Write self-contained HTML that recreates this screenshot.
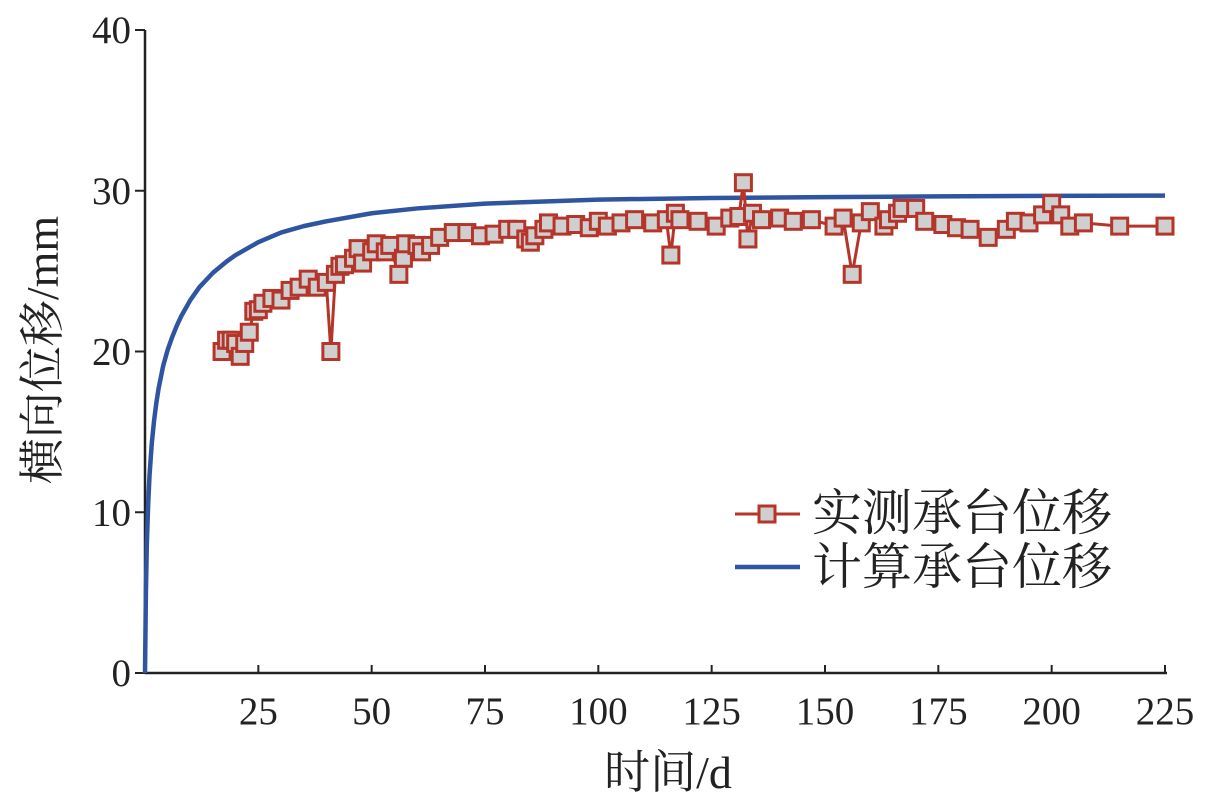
<!DOCTYPE html>
<html><head><meta charset="utf-8"><style>
html,body{margin:0;padding:0;background:#fff;}
svg text{font-family:"Liberation Serif","Noto Serif CJK SC",serif;fill:#222;}
</style></head><body>
<svg id="chart" width="1205" height="800" xmlns="http://www.w3.org/2000/svg"></svg>
<script>
const xTicks=[25,50,75,100,125,150,175,200,225];
const yTicks=[0,10,20,30,40];
const measDays=[17,18,19,20,21,22,23,24,25,26,28,30,32,34,36,38,40,41,42,43,44,46,47,48,50,51,53,54,56,57,57.5,60,61,63,65,68,71,74,77,80,82,84,85,86,88,89,92,95,98,100,102,105,108,112,115,116,117,118,122,126,129,131,132,133,134,136,140,143,147,152,154,156,158,160,163,164,166,167,170,172,176,179,182,186,190,192,195,198,200,202,204,207,215,225];
const measVals=[20,20.7,20.7,20.5,19.7,20.5,21.2,22.5,22.6,23,23.3,23.2,23.8,24,24.5,24,24.3,20,24.8,25.3,25.4,25.8,26.4,25.5,26.2,26.7,26.2,26.6,24.8,25.8,26.7,26.6,26.2,26.6,27.1,27.4,27.4,27.2,27.3,27.6,27.6,27.0,26.8,27.2,27.6,28,27.8,27.9,27.7,28.1,27.8,28.0,28.2,28.0,28.2,26,28.6,28.2,28.1,27.8,28.3,28.4,30.5,27.0,28.6,28.2,28.3,28.1,28.2,27.8,28.3,24.8,28.0,28.7,27.8,28.2,28.6,28.9,28.9,28.1,27.9,27.7,27.6,27.1,27.6,28.1,28.0,28.5,29.2,28.5,27.8,28.0,27.8,27.8];
const calcDays=[0,0.2,0.4,0.7,1,1.5,2,2.5,3,4,5,6,7,8,10,12,15,18,20,25,30,35,40,50,60,75,100,125,150,175,200,225];
const calcVals=[0,5,8,10.5,12.3,14.3,15.7,16.8,17.7,19.1,20.1,20.9,21.6,22.2,23.2,24,24.9,25.6,26,26.8,27.4,27.8,28.1,28.6,28.9,29.2,29.45,29.55,29.6,29.65,29.68,29.7];

const NS="http://www.w3.org/2000/svg";
const svg=document.getElementById('chart');
const X0=145,X1=1165,Y0=673,Y1=30;
const sx=v=>X0+v*(X1-X0)/225;
const sy=v=>Y0-v*(Y0-Y1)/40;
function mk(t,a,p){const e=document.createElementNS(NS,t);for(const k in a)e.setAttribute(k,a[k]);(p||svg).appendChild(e);return e;}

let ax=mk('line',{x1:X0,y1:Y0,x2:X1+2,y2:Y0,stroke:'#222','stroke-width':2.5});


let ay=mk('line',{x1:X0,y1:Y0,x2:X0,y2:Y1,stroke:'#222','stroke-width':2.5});


xTicks.forEach(v=>{
  let l=mk('line',{x1:sx(v),y1:Y0,x2:sx(v),y2:Y0-8,stroke:'#222','stroke-width':2});
  
  
  let t=mk('text',{x:sx(v),y:724,'text-anchor':'middle','font-size':39});
  t.textContent=v;
  
  
});
yTicks.forEach(v=>{
  let l=mk('line',{x1:X0,y1:sy(v),x2:X0-10,y2:sy(v),stroke:'#222','stroke-width':2});
  
  
  let t=mk('text',{x:131,y:sy(v)+13,'text-anchor':'end','font-size':39});
  t.textContent=v;
  
  
});
let xt=mk('text',{x:668,y:788,'text-anchor':'middle','font-size':46});
xt.textContent='时间/d';


let yt=mk('text',{x:0,y:0,'text-anchor':'middle','font-size':46,transform:'translate(58,350) rotate(-90)'});
yt.textContent='横向位移/mm';



let cl=mk('polyline',{points:calcDays.map((d,i)=>sx(d)+','+sy(calcVals[i])).join(' '),fill:'none',stroke:'#2f55a0','stroke-width':4.5,'stroke-linejoin':'round'});


let ml=mk('polyline',{points:measDays.map((d,i)=>sx(d)+','+sy(measVals[i])).join(' '),fill:'none',stroke:'#b5352a','stroke-width':3});


measDays.forEach((d,i)=>{
  let r=mk('rect',{x:sx(d)-8,y:sy(measVals[i])-8,width:16,height:16,fill:'#cfcfcf',stroke:'#b5352a','stroke-width':3});
  
  
});

let lg=mk('g',{});


mk('line',{x1:735,y1:514,x2:800,y2:514,stroke:'#b5352a','stroke-width':3},lg);
mk('rect',{x:759,y:506,width:16,height:16,fill:'#cfcfcf',stroke:'#b5352a','stroke-width':3},lg);
let l1=mk('text',{x:812,y:530,'font-size':50},lg);
l1.textContent='实测承台位移';


mk('line',{x1:735,y1:567,x2:800,y2:567,stroke:'#2f55a0','stroke-width':4.5},lg);
let l2=mk('text',{x:812,y:584,'font-size':50},lg);
l2.textContent='计算承台位移';


</script>
</body></html>
